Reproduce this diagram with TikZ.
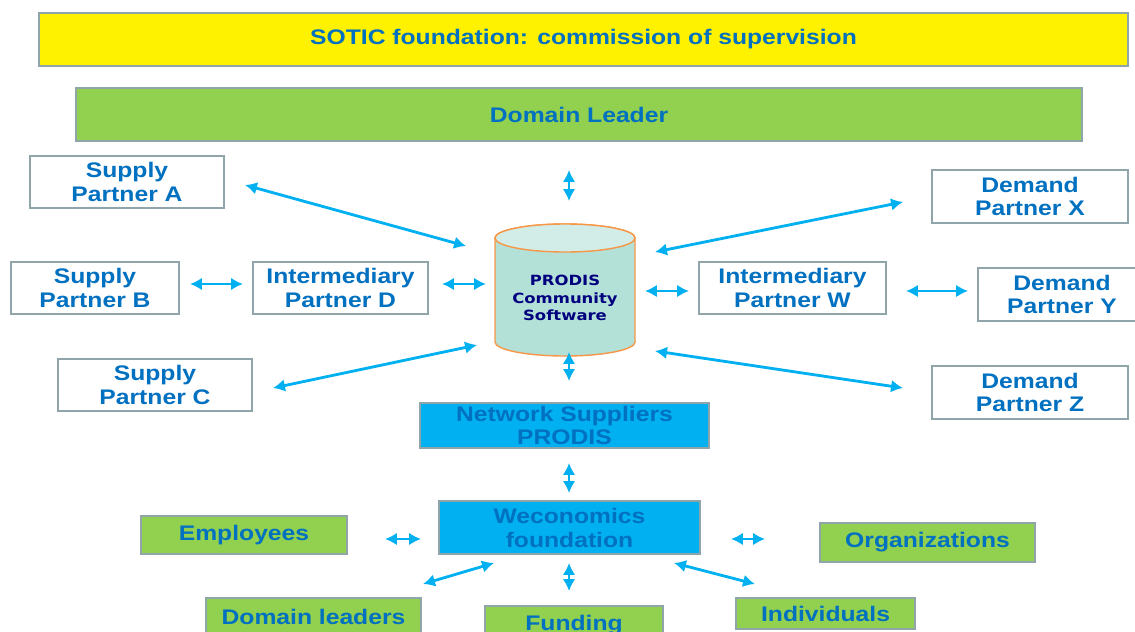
\documentclass[tikz,border=0pt]{standalone}
\usepackage{fontspec}
\setmainfont{Liberation Sans}[FakeStretch=1.17]
\newfontfamily\cylfont{DejaVu Sans}[FakeStretch=1.17]
\usetikzlibrary{arrows.meta}

\definecolor{framegray}{HTML}{8FA5AA}
\definecolor{textblue}{HTML}{0070C0}
\definecolor{leafgreen}{HTML}{92D050}
\definecolor{skyblue}{HTML}{00B0F0}
\definecolor{cylbody}{HTML}{B4E1D7}
\definecolor{cyltop}{HTML}{D2EDE7}
\definecolor{cylline}{HTML}{F79646}
\definecolor{navytext}{HTML}{00007F}

\tikzset{
    panel/.style={draw=framegray, line width=1.6pt, text=textblue, align=center, inner sep=0pt,
        font=\bfseries\fontsize{15}{17}\selectfont},
    whitepanel/.style={panel, fill=white},
    greenpanel/.style={panel, fill=leafgreen},
    bluepanel/.style={panel, fill=skyblue},
    link/.style={draw=skyblue, line width=2pt,
        {Latex[length=8.5pt,width=9pt]}-{Latex[length=8.5pt,width=9pt]}},
}

\begin{document}
\begin{tikzpicture}[x=0.025cm, y=-0.025cm]
        \useasboundingbox (0,0) rectangle (1135,631);
        \clip (0,0) rectangle (1135,631);

        \node[panel, fill=yellow, minimum width=27.225cm, minimum height=1.325cm] (sotic) at (583.5,39.5) {SOTIC foundation: commission of supervision};
        \node[greenpanel, minimum width=25.15cm, minimum height=1.325cm] (leader) at (579,114.5) {Domain Leader};

        \node[whitepanel, minimum width=4.85cm, minimum height=1.3cm] (supA) at (127,182) {Supply\\Partner A};
        \node[whitepanel, minimum width=4.2cm, minimum height=1.3cm] (supB) at (95,288) {Supply\\Partner B};
        \node[whitepanel, minimum width=4.375cm, minimum height=1.3cm] (interD) at (340.5,288) {Intermediary\\Partner D};
        \node[whitepanel, minimum width=4.85cm, minimum height=1.3cm] (supC) at (155,385) {Supply\\Partner C};

        \node[whitepanel, minimum width=4.675cm, minimum height=1.3cm] (interW) at (792.5,288) {Intermediary\\Partner W};
        \node[whitepanel, minimum width=4.9cm, minimum height=1.325cm] (demX) at (1030,196.5) {Demand\\Partner X};
        \node[whitepanel, minimum width=4.2cm, minimum height=1.325cm] (demY) at (1062,294.5) {Demand\\Partner Y};
        \node[whitepanel, minimum width=4.9cm, minimum height=1.325cm] (demZ) at (1030,392.5) {Demand\\Partner Z};

        % database cylinder
        \draw[cylline, fill=cylbody, line width=1pt] (495,238) -- (495,342)
            arc[start angle=180, end angle=360, x radius=1.75cm, y radius=0.35cm] -- (635,238)
            arc[start angle=0, end angle=180, x radius=1.75cm, y radius=0.35cm] -- cycle;
        \draw[cylline, fill=cyltop, line width=1pt] (565,238) ellipse[x radius=1.75cm, y radius=0.35cm];
        \node[align=center, text=navytext, font=\cylfont\bfseries\fontsize{10}{12.2}\selectfont] (prodis) at (565,298) {PRODIS\\Community\\Software};

        \node[bluepanel, minimum width=7.225cm, minimum height=1.125cm] (network) at (564.5,425.5) {Network Suppliers\\PRODIS};
        \node[bluepanel, minimum width=6.525cm, minimum height=1.325cm] (wecon) at (569.5,527.5) {Weconomics\\foundation};

        \node[greenpanel, minimum width=5.15cm, minimum height=0.95cm] (employees) at (244,535) {Employees};
        \node[greenpanel, minimum width=5.375cm, minimum height=0.975cm] (orgs) at (927.5,542.5) {Organizations};
        \node[greenpanel, minimum width=5.375cm, minimum height=0.95cm] (dleaders) at (313.5,617) {Domain leaders};
        \node[greenpanel, minimum width=4.45cm, minimum height=0.95cm] (funding) at (574,625) {Funding};
        \node[greenpanel, minimum width=4.475cm, minimum height=0.775cm] (indiv) at (825.5,613.5) {Individuals};

        % free arrow ends
        \coordinate (leader-s) at (569,170);  \coordinate (cyl-n) at (569,201);
        \coordinate (supA-e) at (245,185);    \coordinate (cyl-nw) at (466,246);
        \coordinate (supB-e) at (190,284);    \coordinate (interD-w) at (243,284);
        \coordinate (interD-e) at (442,284);  \coordinate (cyl-w) at (486,284);
        \coordinate (supC-e) at (273,388);    \coordinate (cyl-sw) at (477,345);
        \coordinate (demX-w) at (903,202);    \coordinate (cyl-ne) at (655,252);
        \coordinate (cyl-e) at (645,291);     \coordinate (interW-w) at (689,291);
        \coordinate (interW-e) at (906,291);  \coordinate (demY-w) at (968,291);
        \coordinate (demZ-w) at (903,388);    \coordinate (cyl-se) at (655,351);
        \coordinate (cyl-s) at (569,352);     \coordinate (network-n) at (569,381);
        \coordinate (network-s) at (569,463); \coordinate (wecon-n) at (569,493);
        \coordinate (employees-e) at (385,539); \coordinate (wecon-w) at (421,539);
        \coordinate (wecon-e) at (731,539);   \coordinate (orgs-w) at (765,539);
        \coordinate (dleaders-n) at (423,584); \coordinate (wecon-sw) at (494,563);
        \coordinate (wecon-s) at (569,563);   \coordinate (funding-n) at (569,591);
        \coordinate (wecon-se) at (674,563);  \coordinate (indiv-n) at (755,584);

        \draw[link] (leader-s) -- (cyl-n);
        \draw[link] (supA-e) -- (cyl-nw);
        \draw[link] (supB-e) -- (interD-w);
        \draw[link] (interD-e) -- (cyl-w);
        \draw[link] (supC-e) -- (cyl-sw);
        \draw[link] (cyl-ne) -- (demX-w);
        \draw[link] (cyl-e) -- (interW-w);
        \draw[link] (interW-e) -- (demY-w);
        \draw[link] (cyl-se) -- (demZ-w);
        \draw[link] (cyl-s) -- (network-n);
        \draw[link] (network-s) -- (wecon-n);
        \draw[link] (employees-e) -- (wecon-w);
        \draw[link] (wecon-e) -- (orgs-w);
        \draw[link] (dleaders-n) -- (wecon-sw);
        \draw[link] (wecon-s) -- (funding-n);
        \draw[link] (wecon-se) -- (indiv-n);
    \end{tikzpicture}
\end{document}
